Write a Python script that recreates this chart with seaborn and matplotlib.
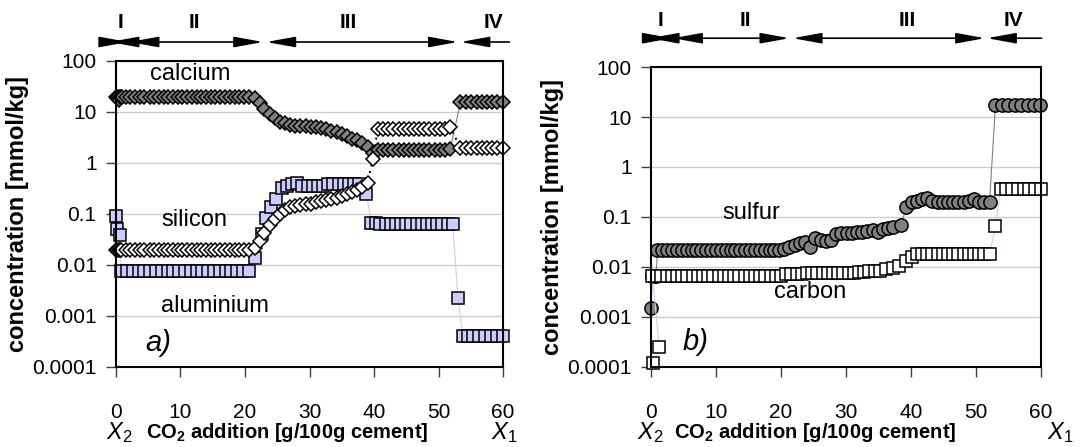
import numpy as np
import pandas as pd
import matplotlib
matplotlib.use("Agg")
import matplotlib.pyplot as plt
import matplotlib.transforms as mtrans
import seaborn as sns

# ---------------- data ----------------
# panel a) calcium
ca_x = [0.0, 0.1, 0.2, 0.3, 0.4, 0.6, 0.8, 1.0,
        1.5, 2.2, 3.0, 3.7, 4.4, 5.2, 5.9, 6.6, 7.4, 8.1, 8.8, 9.6, 10.3, 11.0, 11.8,
        12.5, 13.2, 14.0, 14.7, 15.4, 16.2, 16.9, 17.6, 18.4, 19.1, 19.8, 20.6,
        21.5, 22.3, 23.0, 23.8, 24.6, 25.4, 26.2, 27.0, 27.8, 28.6, 29.4, 30.2, 31.0,
        31.8, 32.6, 33.4, 34.2, 35.0, 35.8, 36.6, 37.4, 38.2, 39.0, 39.8,
        40.6, 41.4, 42.2, 43.0, 43.8, 44.6, 45.4, 46.2, 47.0, 47.8, 48.6, 49.4, 50.2, 51.0, 51.8,
        53.4, 54.2, 55.0, 55.9, 56.7, 57.5, 58.3, 59.1, 60.0]
ca_y = [20, 20, 19, 20, 17, 20, 20, 20,
        20, 20, 20, 20, 20, 20, 20, 20, 20, 20, 20, 20, 20, 20, 20,
        20, 20, 20, 20, 20, 20, 20, 20, 20, 20, 20, 20,
        19, 15, 11.5, 9, 7.5, 6.5, 6.0, 5.6, 5.4, 5.3, 5.2, 5.1, 5.0,
        4.9, 4.6, 4.3, 4.0, 3.7, 3.4, 3.0, 2.8, 2.5, 2.1, 1.6,
        1.8, 1.8, 1.8, 1.8, 1.8, 1.8, 1.8, 1.8, 1.8, 1.8, 1.8, 1.8, 1.8, 1.8, 1.85,
        15.5, 15.5, 15.5, 15.5, 15.5, 15.5, 15.5, 15.5, 15.5]

# panel a) silicon
si_x = [0.0, 0.2, 0.4, 0.6, 0.8,
        1.5, 2.2, 3.0, 3.7, 4.4, 5.2, 5.9, 6.6, 7.4, 8.1, 8.8, 9.6, 10.3, 11.0, 11.8,
        12.5, 13.2, 14.0, 14.7, 15.4, 16.2, 16.9, 17.6, 18.4, 19.1, 19.8, 20.6,
        21.5, 22.3, 23.0, 23.8, 24.6, 25.4, 26.2, 27.0, 27.8, 28.6, 29.4, 30.2, 31.0,
        31.8, 32.6, 33.4, 34.2, 35.0, 35.8, 36.6, 37.4, 38.2, 39.0, 39.8,
        40.6, 41.4, 42.2, 43.0, 43.8, 44.6, 45.4, 46.2, 47.0, 47.8, 48.6, 49.4, 50.2, 51.0, 51.8,
        53.4, 54.2, 55.0, 55.9, 56.7, 57.5, 58.3, 59.1, 60.0]
si_y = [0.02, 0.02, 0.02, 0.02, 0.02,
        0.02, 0.02, 0.02, 0.02, 0.02, 0.02, 0.02, 0.02, 0.02, 0.02, 0.02, 0.02, 0.02, 0.02, 0.02,
        0.02, 0.02, 0.02, 0.02, 0.02, 0.02, 0.02, 0.02, 0.02, 0.02, 0.02, 0.02,
        0.022, 0.03, 0.042, 0.06, 0.08, 0.1, 0.12, 0.135, 0.145, 0.15, 0.155, 0.16, 0.17,
        0.18, 0.19, 0.2, 0.21, 0.23, 0.25, 0.27, 0.3, 0.34, 0.4, 1.2,
        4.7, 4.7, 4.7, 4.7, 4.7, 4.7, 4.7, 4.7, 4.7, 4.7, 4.7, 4.7, 4.7, 4.7, 5.0,
        2.0, 2.0, 2.0, 2.0, 2.0, 2.0, 2.0, 2.0, 2.0]

# panel a) aluminium
al_x = [0.0, 0.2, 0.6,
        0.8, 1.7, 2.6, 3.5, 4.4, 5.3, 6.2, 7.1, 8.0, 8.9, 9.8, 10.7, 11.6, 12.5, 13.4,
        14.3, 15.2, 16.1, 17.0, 17.9, 18.8, 19.7, 20.6,
        21.6, 22.6, 23.2, 24.0, 24.8, 25.7, 26.5, 27.3, 28.1, 28.9, 29.7, 30.5, 31.3,
        32.1, 32.9, 33.7, 34.5, 35.3, 36.1, 36.9, 37.7, 38.8,
        39.6, 40.3, 41.0, 41.8, 42.6, 43.4, 44.2, 45.0, 45.8, 46.6, 47.4, 48.2, 49.0,
        49.8, 50.6, 51.4, 52.2,
        53.0,
        53.8, 54.6, 55.4, 56.3, 57.2, 58.1, 59.0, 60.0]
al_y = [0.09, 0.05, 0.038,
        0.0075, 0.0075, 0.0075, 0.0075, 0.0075, 0.0075, 0.0075, 0.0075, 0.0075, 0.0075,
        0.0075, 0.0075, 0.0075, 0.0075, 0.0075, 0.0075, 0.0075, 0.0075, 0.0075, 0.0075,
        0.0075, 0.0075, 0.0075,
        0.014, 0.04, 0.085, 0.14, 0.2, 0.33, 0.36, 0.38, 0.4, 0.36, 0.36, 0.36, 0.36,
        0.36, 0.38, 0.38, 0.38, 0.38, 0.38, 0.38, 0.38, 0.25,
        0.068, 0.068, 0.064, 0.064, 0.064, 0.064, 0.064, 0.064, 0.064, 0.064, 0.064,
        0.064, 0.064, 0.064, 0.064, 0.064, 0.064,
        0.0023,
        0.0004, 0.0004, 0.0004, 0.0004, 0.0004, 0.0004, 0.0004, 0.0004]

# panel b) sulfur
s_x = [0.0, 0.2, 0.4, 0.8,
       1.0, 1.75, 2.5, 3.25, 4.0, 4.75, 5.5, 6.25, 7.0, 7.75, 8.5, 9.25, 10.0, 10.75,
       11.5, 12.25, 13.0, 13.75, 14.5, 15.25, 16.0, 16.75, 17.5, 18.25, 19.0, 19.75,
       20.5, 21.3, 22.1, 22.9, 23.7, 24.5, 25.3, 26.1, 26.9, 27.7, 28.5, 29.3, 30.1,
       30.9, 31.7, 32.5, 33.3, 34.1, 34.9, 35.7, 36.5, 37.3, 38.5,
       39.3, 40.1, 40.9, 41.7, 42.5, 43.3, 44.1, 44.9, 45.7, 46.5, 47.3, 48.1, 48.9,
       49.7, 50.5, 51.3, 52.1,
       53.0, 54.0, 55.0, 56.0, 57.0, 58.0, 58.9, 59.8]
s_y = [0.0015, 0.0065, 0.0065, 0.0065,
       0.022, 0.022, 0.022, 0.022, 0.022, 0.022, 0.022, 0.022, 0.022, 0.022, 0.022,
       0.022, 0.022, 0.022, 0.022, 0.022, 0.022, 0.022, 0.022, 0.022, 0.022, 0.022,
       0.022, 0.022, 0.022, 0.022,
       0.023, 0.025, 0.027, 0.03, 0.032, 0.025, 0.038, 0.035, 0.033, 0.035, 0.045,
       0.048, 0.048, 0.048, 0.05, 0.05, 0.052, 0.055, 0.05, 0.058, 0.06, 0.063, 0.07,
       0.16, 0.2, 0.21, 0.23, 0.24, 0.21, 0.2, 0.2, 0.2, 0.2, 0.2, 0.2, 0.21,
       0.23, 0.2, 0.2, 0.2,
       17, 17, 17, 17, 17, 17, 17, 17]

# panel b) carbon
c_x = [0.3, 1.3, 0.2, 1.6,
       2.4, 3.2, 4.0, 4.8, 5.6, 6.4, 7.2, 8.0, 8.8, 9.6, 10.4, 11.2, 12.0, 12.8,
       13.6, 14.4, 15.2, 16.0, 16.8, 17.6, 18.4, 19.2, 20.0,
       20.8, 21.6, 22.4, 23.2, 24.0, 24.8, 25.6, 26.4, 27.2, 28.0, 28.8, 29.6, 30.4,
       31.2, 32.0, 32.8, 33.6, 34.4, 35.2, 36.2, 37.2, 38.2,
       39.3, 40.1, 40.9, 41.7, 42.5, 43.3, 44.1, 44.9, 45.7, 46.5, 47.3, 48.1, 48.9,
       49.7, 50.5, 51.3, 52.1,
       53.0,
       53.8, 54.7, 55.6, 56.5, 57.4, 58.2, 59.1, 60.0]
c_y = [0.00012, 0.00025, 0.0066, 0.0066,
       0.0066, 0.0066, 0.0066, 0.0066, 0.0066, 0.0066, 0.0066, 0.0066, 0.0066, 0.0066,
       0.0066, 0.0066, 0.0066, 0.0066, 0.0066, 0.0066, 0.0066, 0.0066, 0.0066, 0.0066,
       0.0066, 0.0066, 0.0066,
       0.0072, 0.0072, 0.0072, 0.0072, 0.0075, 0.0075, 0.0077, 0.0077, 0.0077, 0.0077,
       0.0077, 0.0077, 0.0077, 0.0077, 0.0078, 0.0078, 0.0085, 0.0085, 0.0085, 0.009,
       0.0095, 0.0105,
       0.013, 0.016, 0.018, 0.018, 0.018, 0.018, 0.018, 0.018, 0.018, 0.018, 0.018,
       0.018, 0.018, 0.018, 0.018, 0.018, 0.018,
       0.065,
       0.37, 0.37, 0.37, 0.37, 0.37, 0.37, 0.37, 0.37]

yticks = [1e-4, 1e-3, 1e-2, 1e-1, 1, 10, 100]
ytick_labels = ["0.0001", "0.001", "0.01", "0.1", "1", "10", "100"]
xticks = [0, 10, 20, 30, 40, 50, 60]
roman = ["I", "II", "III", "IV"]
bounds_a = [-1.0, 1.9, 2.1, 22.8, 23.3, 53.0, 53.4, 61.0]
bounds_b = [-0.2, 3.2, 3.4, 21.3, 21.8, 51.4, 51.7, 60.1]
roman_x_a = [0.7, 12.2, 36.0, 58.5]
roman_x_b = [1.4, 14.5, 39.5, 55.7]

# ---------------- style ----------------
sns.set_style("ticks")
plt.rcParams["font.family"] = ["Liberation Sans", "DejaVu Sans"]
plt.rcParams["mathtext.fontset"] = "custom"
plt.rcParams["mathtext.rm"] = "Liberation Sans"
plt.rcParams["mathtext.it"] = "Liberation Sans:italic"
plt.rcParams["mathtext.bf"] = "Liberation Sans:bold"
for k in ["text.color", "axes.labelcolor", "xtick.color", "ytick.color",
          "xtick.labelcolor", "ytick.labelcolor"]:
    plt.rcParams[k] = "black"

fig = plt.figure(figsize=(10.86, 4.47), dpi=100)
axA = fig.add_axes([0.1068, 0.179, 0.3564, 0.6846])
axB = fig.add_axes([0.5994, 0.179, 0.3591, 0.6711])


def series(ax, x, y, marker, ms, face, line_color, ls="-", lw=0.8):
    df = pd.DataFrame({"x": x, "y": y})
    sns.lineplot(data=df, x="x", y="y", ax=ax, sort=False, estimator=None,
                 color=line_color, linestyle=ls, linewidth=lw,
                 marker=marker, markersize=ms, markerfacecolor=face,
                 markeredgecolor="black", markeredgewidth=1.1, clip_on=False)


def style_axes(ax):
    ax.set_yscale("log")
    ax.set_xlim(0, 60)
    ax.set_ylim(1e-4, 100)
    ax.set_yticks(yticks)
    ax.set_yticklabels(ytick_labels)
    ax.yaxis.set_minor_locator(matplotlib.ticker.NullLocator())
    ax.set_xticks(xticks)
    ax.set_xticklabels([str(v) for v in xticks])
    ax.grid(axis="y", which="major", color="#cccccc", lw=1.0)
    ax.set_axisbelow(True)
    for sp in ax.spines.values():
        sp.set_visible(True)
        sp.set_color("black")
        sp.set_linewidth(1.5)
    ax.tick_params(axis="y", which="major", direction="out", length=7, width=1,
                   pad=7, labelsize=15, color="#404040", labelcolor="black")
    ax.tick_params(axis="x", which="major", direction="out", length=7, width=1,
                   pad=19, labelsize=15, color="#404040", labelcolor="black")
    ax.set_xlabel("")
    ax.set_ylabel("concentration [mmol/kg]", fontsize=17, fontweight="bold",
                  labelpad=2, color="black")


def regions(ax, bounds, rx, y_arrow, y_text):
    trans = mtrans.blended_transform_factory(ax.transData, ax.transAxes)
    for i in range(4):
        x0, x1 = bounds[2 * i], bounds[2 * i + 1]
        style = ("<|-|>,head_length=1.1,head_width=0.2" if i < 3
                 else "<|-,head_length=1.1,head_width=0.2")
        ax.annotate("", xy=(x1, y_arrow), xytext=(x0, y_arrow), xycoords=trans,
                    textcoords=trans, annotation_clip=False,
                    arrowprops=dict(arrowstyle=style, color="black", lw=1.2,
                                    mutation_scale=16, shrinkA=0, shrinkB=0))
        ax.text(rx[i], y_text, roman[i], transform=trans, ha="center", va="center",
                fontsize=15, fontweight="bold")


# panel a
series(axA, ca_x, ca_y, "D", 7.0, "#808080", "#808080")
series(axA, al_x, al_y, "s", 8.8, "#ccccff", "#ccccff")
series(axA, si_x, si_y, "D", 7.0, "white", "black", ls=(0, (1, 2.5)), lw=1.4)
style_axes(axA)
regions(axA, bounds_a, roman_x_a, 1.062, 1.125)
axA.text(11.5, 55, "calcium", fontsize=17, ha="center", va="center")
axA.text(12.2, 0.075, "silicon", fontsize=17, ha="center", va="center")
axA.text(15.3, 0.0016, "aluminium", fontsize=17, ha="center", va="center")
axA.text(6.5, 0.0003, "a)", fontsize=21, style="italic", ha="center", va="center")

# panel b
series(axB, s_x, s_y, "o", 9.5, "#808080", "#808080")
series(axB, c_x, c_y, "s", 8.8, "white", "#ccccff")
style_axes(axB)
regions(axB, bounds_b, roman_x_b, 1.096, 1.156)
axB.text(15.5, 0.12, "sulfur", fontsize=17, ha="center", va="center")
axB.text(24.5, 0.0032, "carbon", fontsize=17, ha="center", va="center")
axB.text(6.8, 0.00032, "b)", fontsize=21, style="italic", ha="center", va="center")

# x labels
ylab = 1 - 433 / 447
fig.text(287 / 1086, ylab, r"CO$_\mathbf{2}$ addition [g/100g cement]", fontsize=14.5,
         fontweight="bold", ha="center", va="center")
fig.text(119 / 1086, ylab, r"$X_2$", fontsize=17, ha="center", va="center")
fig.text(504 / 1086, ylab, r"$X_1$", fontsize=17, ha="center", va="center")
fig.text(815 / 1086, ylab, r"CO$_\mathbf{2}$ addition [g/100g cement]", fontsize=14.5,
         fontweight="bold", ha="center", va="center")
fig.text(650 / 1086, ylab, r"$X_2$", fontsize=17, ha="center", va="center")
fig.text(1060 / 1086, ylab, r"$X_1$", fontsize=17, ha="center", va="center")

fig.savefig("out.png", dpi=100)
